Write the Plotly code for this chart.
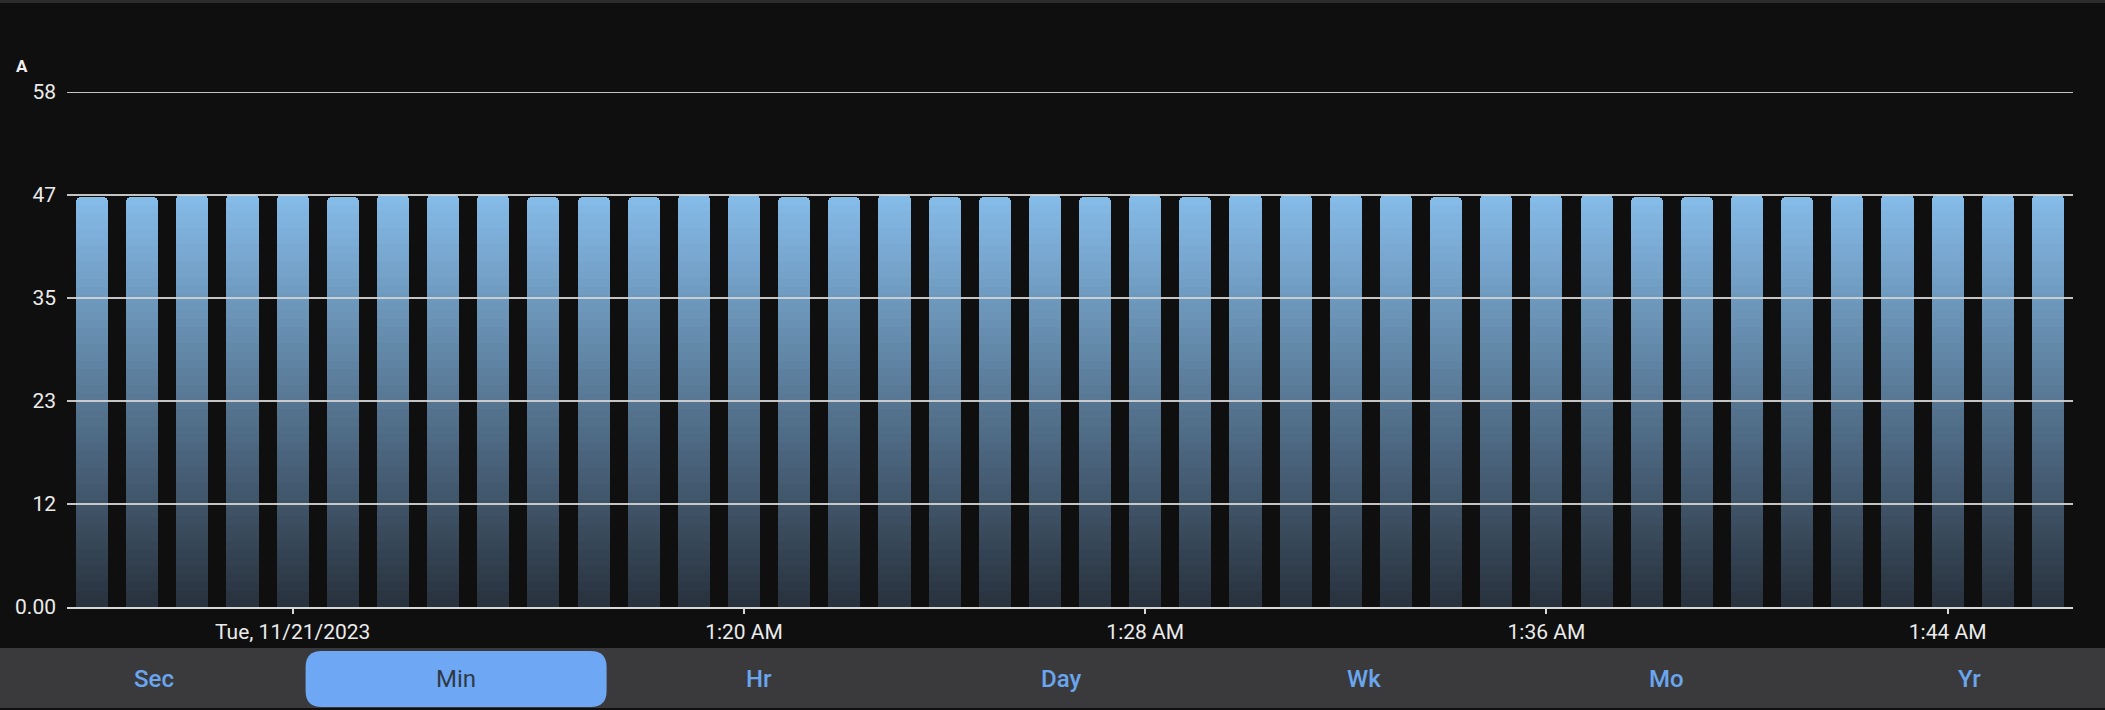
import plotly.graph_objects as go

# ---------------- data ----------------
minutes = [
    "2023-11-21 01:07", "2023-11-21 01:08", "2023-11-21 01:09", "2023-11-21 01:10",
    "2023-11-21 01:11", "2023-11-21 01:12", "2023-11-21 01:13", "2023-11-21 01:14",
    "2023-11-21 01:15", "2023-11-21 01:16", "2023-11-21 01:17", "2023-11-21 01:18",
    "2023-11-21 01:19", "2023-11-21 01:20", "2023-11-21 01:21", "2023-11-21 01:22",
    "2023-11-21 01:23", "2023-11-21 01:24", "2023-11-21 01:25", "2023-11-21 01:26",
    "2023-11-21 01:27", "2023-11-21 01:28", "2023-11-21 01:29", "2023-11-21 01:30",
    "2023-11-21 01:31", "2023-11-21 01:32", "2023-11-21 01:33", "2023-11-21 01:34",
    "2023-11-21 01:35", "2023-11-21 01:36", "2023-11-21 01:37", "2023-11-21 01:38",
    "2023-11-21 01:39", "2023-11-21 01:40", "2023-11-21 01:41", "2023-11-21 01:42",
    "2023-11-21 01:43", "2023-11-21 01:44", "2023-11-21 01:45", "2023-11-21 01:46",
]
current_a = [
    46.2, 46.2, 46.4, 46.4, 46.4, 46.2, 46.4, 46.4, 46.4, 46.2,
    46.2, 46.2, 46.4, 46.4, 46.2, 46.2, 46.4, 46.2, 46.2, 46.4,
    46.2, 46.4, 46.2, 46.4, 46.4, 46.4, 46.4, 46.2, 46.4, 46.4,
    46.4, 46.2, 46.2, 46.4, 46.2, 46.4, 46.4, 46.4, 46.4, 46.4,
]
y_tickvals = [0, 11.6, 23.2, 34.8, 46.4, 58]
y_ticktext = ["0.00", "12", "23", "35", "47", "58"]
x_tickvals = ["2023-11-21 01:11", "2023-11-21 01:20", "2023-11-21 01:28",
              "2023-11-21 01:36", "2023-11-21 01:44"]
x_ticktext = ["Tue, 11/21/2023", "1:20 AM", "1:28 AM", "1:36 AM", "1:44 AM"]
x_range = ["2023-11-21 01:06:30", "2023-11-21 01:46:30"]
unit_label = "A"
buttons = ["Sec", "Min", "Hr", "Day", "Wk", "Mo", "Yr"]
selected = "Min"

# ---------------- layout geometry / style ----------------
W, H = 2105, 710
ML, MR, MT, MB = 67, 32, 92, 103
PW, PH = W - ML - MR, H - MT - MB
BG = "#0f0f0f"
FONT = "Roboto"
TOP_C = (134, 188, 233)
BOT_C = (40, 49, 61)
N_LAYERS = 50
BAR_W_MS = 0.64 * 60000


def px_x(p):
    return (p - ML) / PW


def px_y(p):
    return (H - MB - p) / PH


def mix(t):
    c = [round(BOT_C[i] + (TOP_C[i] - BOT_C[i]) * t) for i in range(3)]
    return "rgb(%d,%d,%d)" % tuple(c)


fig = go.Figure()

# gradient bars: stacked overlay layers, each shorter and darker
for k in range(N_LAYERS):
    frac = 1 - k / N_LAYERS
    t_mid = 1 - (k + 0.5) / N_LAYERS
    marker = dict(color=mix(t_mid), line=dict(width=0))
    if k == 0:
        marker["cornerradius"] = 5
    fig.add_trace(go.Bar(
        x=minutes,
        y=[v * frac for v in current_a],
        width=BAR_W_MS,
        marker=marker,
        hoverinfo="skip",
        showlegend=False,
    ))

shapes = []
# gridlines drawn above bars
for v in y_tickvals[1:]:
    shapes.append(dict(type="line", xref="paper", yref="y", x0=0, x1=1, y0=v, y1=v,
                       line=dict(color="rgba(212,212,212,0.92)", width=2), layer="above"))

# top border
shapes.append(dict(type="rect", xref="paper", yref="paper",
                   x0=px_x(0), x1=px_x(W), y0=px_y(0), y1=px_y(3),
                   fillcolor="#2c2c2c", line=dict(width=0), layer="below"))

# button bar background
shapes.append(dict(type="rect", xref="paper", yref="paper",
                   x0=px_x(0), x1=px_x(W), y0=px_y(648), y1=px_y(708),
                   fillcolor="#3a3a3d", line=dict(width=0), layer="below"))

annotations = []
slot_c0, slot_w = 153.5, 302.6
for i, b in enumerate(buttons):
    cx = slot_c0 + slot_w * i
    if b == selected:
        x0, x1, y0, y1, r = cx - 150.5, cx + 150.5, 651, 707, 16
        pts = (
            f"M {px_x(x0 + r)},{px_y(y0)} L {px_x(x1 - r)},{px_y(y0)} "
            f"Q {px_x(x1)},{px_y(y0)} {px_x(x1)},{px_y(y0 + r)} "
            f"L {px_x(x1)},{px_y(y1 - r)} Q {px_x(x1)},{px_y(y1)} {px_x(x1 - r)},{px_y(y1)} "
            f"L {px_x(x0 + r)},{px_y(y1)} Q {px_x(x0)},{px_y(y1)} {px_x(x0)},{px_y(y1 - r)} "
            f"L {px_x(x0)},{px_y(y0 + r)} Q {px_x(x0)},{px_y(y0)} {px_x(x0 + r)},{px_y(y0)} Z"
        )
        shapes.append(dict(type="path", xref="paper", yref="paper", path=pts,
                           fillcolor="#6ea8f4", line=dict(width=0), layer="below"))
        font = dict(family=FONT, size=24, color="#2f3a48", weight=400)
    else:
        font = dict(family=FONT, size=24, color="#6aa6ee", weight=500)
    annotations.append(dict(text=b, xref="paper", yref="paper", x=px_x(cx), y=px_y(679),
                            xanchor="center", yanchor="middle", showarrow=False, font=font))

annotations.append(dict(text="<b>" + unit_label + "</b>", xref="paper", yref="paper",
                        x=px_x(14), y=px_y(66), xanchor="left", yanchor="middle",
                        showarrow=False, font=dict(family=FONT, size=17, color="#f0f0f0")))

fig.update_layout(
    width=W, height=H, autosize=False,
    margin=dict(l=ML, r=MR, t=MT, b=MB, pad=0),
    paper_bgcolor=BG, plot_bgcolor=BG,
    barmode="overlay", bargap=0,
    font=dict(family=FONT, size=21, color="#ebebeb"),
    shapes=shapes, annotations=annotations,
    xaxis=dict(type="date", range=x_range, tickvals=x_tickvals, ticktext=x_ticktext,
               showgrid=False, zeroline=False, showline=True, linecolor="#d8d8d8",
               linewidth=2, ticks="outside", ticklen=5, tickwidth=1.5,
               tickcolor="#d8d8d8", tickfont=dict(size=21, color="#ebebeb")),
    yaxis=dict(range=[0, 58], tickvals=y_tickvals, ticktext=y_ticktext,
               showgrid=False, zeroline=False, showline=False, ticks="",
               ticklabelstandoff=10, tickfont=dict(size=21, color="#ebebeb")),
)

fig.write_html(
    "out.html",
    config={"displayModeBar": False},
    post_script="document.body.style.margin='0px';document.body.style.background='#0f0f0f';",
)
